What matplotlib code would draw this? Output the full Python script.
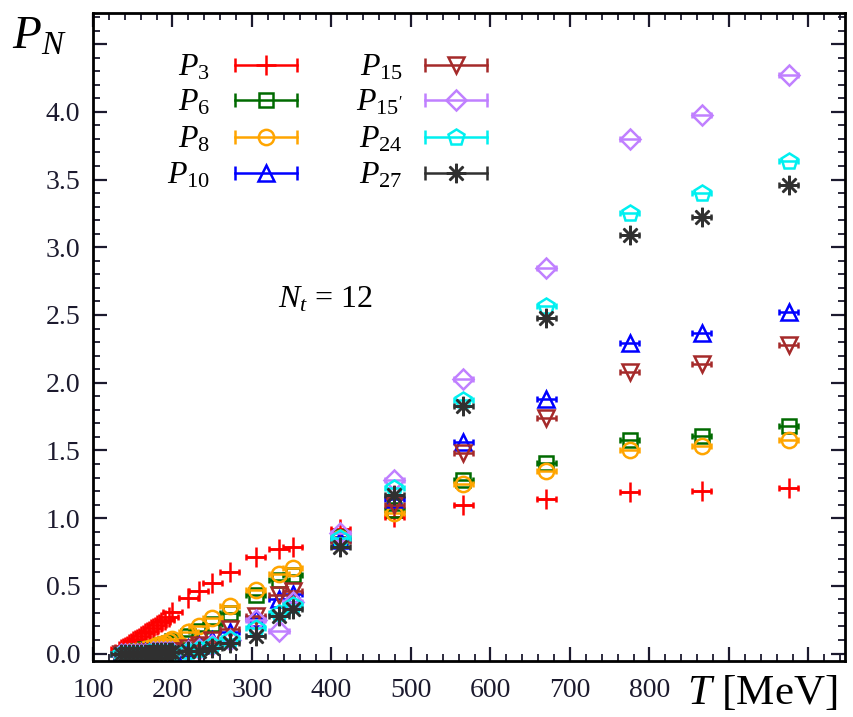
import matplotlib
matplotlib.use("Agg")
import matplotlib.pyplot as plt
from matplotlib.ticker import MultipleLocator, FuncFormatter

plt.rcParams["font.family"] = ["Liberation Serif", "DejaVu Serif"]
plt.rcParams["mathtext.fontset"] = "custom"
plt.rcParams["mathtext.rm"] = "Liberation Serif"
plt.rcParams["mathtext.it"] = "Liberation Serif:italic"

# Temperatures (MeV) on the Nt = 12 lattices
temps = [135, 140, 145, 150, 155, 160, 165, 170, 175, 180, 185, 190, 195, 200,
         220, 233, 250, 272, 305, 334, 351,
         411, 479, 566, 670, 775, 866, 975]
t_err = 12  # temperature uncertainty, MeV

p3 = [0.03, 0.05, 0.07, 0.09, 0.11, 0.13, 0.15, 0.17, 0.19, 0.21, 0.23, 0.25, 0.27, 0.31,
      0.41, 0.46, 0.52, 0.60, 0.71, 0.77, 0.79,
      0.92, 1.01, 1.10, 1.14, 1.19, 1.20, 1.22]
p6 = [0.00, 0.00, 0.01, 0.01, 0.02, 0.02, 0.03, 0.03, 0.04, 0.05, 0.06, 0.07, 0.08, 0.09,
      0.13, 0.17, 0.22, 0.30, 0.43, 0.54, 0.58,
      0.86, 1.06, 1.28, 1.41, 1.58, 1.61, 1.68]
p8 = [0.00, 0.00, 0.01, 0.01, 0.02, 0.02, 0.03, 0.04, 0.05, 0.06, 0.07, 0.08, 0.09, 0.11,
      0.16, 0.20, 0.26, 0.35, 0.47, 0.59, 0.63,
      0.85, 1.04, 1.25, 1.35, 1.50, 1.53, 1.58]
p10 = [0.00, 0.00, 0.00, 0.00, 0.00, 0.01, 0.01, 0.01, 0.01, 0.01, 0.01, 0.02, 0.02, 0.02,
       0.04, 0.06, 0.10, 0.16, 0.26, 0.40, 0.44,
       0.84, 1.14, 1.56, 1.88, 2.29, 2.37, 2.52]
p15 = [0.00, 0.00, 0.00, 0.00, 0.00, 0.00, 0.01, 0.01, 0.01, 0.01, 0.01, 0.01, 0.02, 0.02,
       0.04, 0.06, 0.10, 0.18, 0.28, 0.43, 0.46,
       0.83, 1.10, 1.48, 1.74, 2.08, 2.14, 2.28]
p15p = [0.00, 0.00, 0.00, 0.00, 0.00, 0.00, 0.00, 0.00, 0.01, 0.01, 0.01, 0.01, 0.01, 0.01,
        0.02, 0.03, 0.06, 0.10, 0.25, 0.17, 0.38,
        0.89, 1.28, 2.03, 2.85, 3.80, 3.98, 4.27]
p24 = [0.00, 0.00, 0.00, 0.00, 0.00, 0.00, 0.00, 0.01, 0.01, 0.01, 0.01, 0.01, 0.01, 0.01,
       0.02, 0.03, 0.06, 0.11, 0.19, 0.30, 0.36,
       0.85, 1.22, 1.87, 2.57, 3.25, 3.40, 3.64]
p27 = [0.00, 0.00, 0.00, 0.00, 0.00, 0.00, 0.00, 0.00, 0.01, 0.01, 0.01, 0.01, 0.01, 0.01,
       0.02, 0.02, 0.04, 0.08, 0.13, 0.28, 0.33,
       0.79, 1.17, 1.83, 2.48, 3.09, 3.22, 3.46]

series = [p3, p6, p8, p10, p15, p15p, p24, p27]
labels = [r"$P_{3}$", r"$P_{6}$", r"$P_{8}$", r"$P_{10}$",
          r"$P_{15}$", r"$P_{15'}$", r"$P_{24}$", r"$P_{27}$"]
colors = ["#ff0000", "#006a00", "#ffa500", "#0000ff",
          "#a52a2a", "#c080ff", "#00f0f0", "#303030"]
markers = ["+", "s", "o", "^", "v", "D", "p", (8, 2, 0)]
msizes = [15, 10, 11, 12, 12, 10, 12, 14]

fig = plt.figure(figsize=(8.54, 7.17), dpi=100)
ax = fig.add_axes([93 / 854, 56 / 717, 752 / 854, 648 / 717])

for vals, col, mk, ms in zip(series, colors, markers, msizes):
    ax.errorbar(temps, vals, xerr=t_err, fmt="none", ecolor=col,
                elinewidth=1.8, capsize=2.5, capthick=1.8)
    ax.plot(temps, vals, ls="none", marker=mk, ms=ms, mfc="none",
            mec=col, mew=1.8)

ax.set_xlim(100, 1046)
ax.set_ylim(-0.055, 4.73)

ax.xaxis.set_major_locator(MultipleLocator(100))
ax.xaxis.set_minor_locator(MultipleLocator(20))
ax.yaxis.set_major_locator(MultipleLocator(0.5))
ax.yaxis.set_minor_locator(MultipleLocator(0.1))
# the axis titles sit where the last tick labels would be
ax.xaxis.set_major_formatter(FuncFormatter(lambda v, p: "%d" % v if v <= 800 else ""))
ax.yaxis.set_major_formatter(FuncFormatter(lambda v, p: "%.1f" % v if v <= 4.2 else ""))

ax.tick_params(which="both", direction="in", top=True, right=True,
               labelsize=20, colors="#1c1a2e")
ax.tick_params(which="major", length=10, width=1.6)
ax.tick_params(which="minor", length=5, width=1.3)
ax.tick_params(axis="x", pad=12)
ax.tick_params(axis="y", pad=9)
for sp in ax.spines.values():
    sp.set_linewidth(2.0)

# key: label on the left, errorbar sample on the right
rows = [0.920, 0.866, 0.809, 0.753]
cols = [(0.156, 0.189, 0.271), (0.412, 0.441, 0.524)]
for i, (lab, col, mk, ms) in enumerate(zip(labels, colors, markers, msizes)):
    lx, x0, x1 = cols[i // 4]
    y = rows[i % 4]
    ax.text(lx, y - 0.016, lab, transform=ax.transAxes, ha="right",
            va="baseline", fontsize=23)
    ax.plot([x0, x1], [y, y], transform=ax.transAxes, color=col, lw=1.8)
    ax.plot([x0, x1], [y, y], transform=ax.transAxes, ls="none", marker="|",
            ms=10, mew=1.8, color=col)
    ax.plot([(x0 + x1) / 2], [y], transform=ax.transAxes, ls="none",
            marker=mk, ms=ms, mfc="none", mec=col, mew=1.8)

ax.text(0.246, 0.545, r"$N_t$ = 12", transform=ax.transAxes, fontsize=23,
        ha="left", va="baseline")

fig.text(0.014, 0.932, r"$P_N$", fontsize=34, ha="left", va="baseline")
fig.text(0.804, 0.018, r"$T$ [MeV]", fontsize=31, ha="left", va="baseline")

fig.savefig("out.png", dpi=100)
